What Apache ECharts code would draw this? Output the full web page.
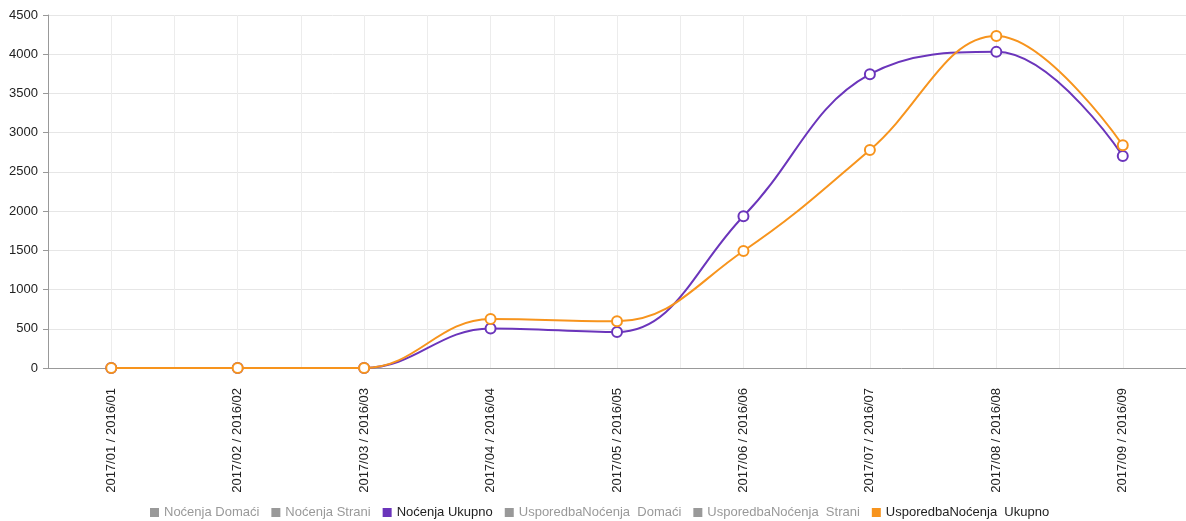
<!DOCTYPE html>
<html><head><meta charset="utf-8">
<script src="https://cdn.jsdelivr.net/npm/echarts@6/dist/echarts.min.js"></script>
<style>html,body{margin:0;padding:0;background:#fff}#c{width:1186px;height:521px}</style>
</head><body><div id="c"></div>
<script>
const categories = ['2017/01 / 2016/01','2017/02 / 2016/02','2017/03 / 2016/03','2017/04 / 2016/04','2017/05 / 2016/05','2017/06 / 2016/06','2017/07 / 2016/07','2017/08 / 2016/08','2017/09 / 2016/09'];
const nocenjaDomaci = [];
const nocenjaStrani = [];
const nocenjaUkupno = [0, 0, 0, 505, 458, 1935, 3745, 4030, 2703];
const usporedbaDomaci = [];
const usporedbaStrani = [];
const usporedbaUkupno = [0, 0, 0, 625, 595, 1492, 2780, 4232, 2840];
const legendNames = ['Noćenja Domaći','Noćenja Strani','Noćenja Ukupno','UsporedbaNoćenja  Domaći','UsporedbaNoćenja  Strani','UsporedbaNoćenja  Ukupno'];

const chart = echarts.init(document.getElementById('c'));
const font = 'Liberation Sans, Arial, sans-serif';
function line(name, data, color, z) {
  return {name, type:'line', data, smooth:0.4, symbol:'emptyCircle', symbolSize:10,
    lineStyle:{width:2,color}, itemStyle:{color, borderWidth:2}, z, xAxisIndex:0, yAxisIndex:0};
}
chart.setOption({
  animation:false,
  color:['#888','#888','#6b35bb','#888','#888','#f7941d'],
  grid:{left:48, right:0, top:15, bottom:153},
  legend:{top:506, left:150, padding:0, icon:'rect', itemWidth:9, itemHeight:9, itemGap:12,
    textStyle:{fontFamily:font,fontSize:13,color:'#222'}, inactiveColor:'#999',
    data:legendNames,
    selected:{'Noćenja Domaći':false,'Noćenja Strani':false,'UsporedbaNoćenja  Domaći':false,'UsporedbaNoćenja  Strani':false}},
  xAxis:[{type:'category', data:categories, boundaryGap:true,
    axisLine:{lineStyle:{color:'#999'}}, axisTick:{lineStyle:{color:'#999'}, length:5},
    axisLabel:{rotate:90, fontFamily:font, fontSize:13, color:'#222', margin:20, interval:0},
    splitLine:{show:false}},
   {type:'value', min:0, max:9, interval:0.5, show:true, position:'bottom',
    axisLine:{show:false}, axisTick:{show:false}, axisLabel:{show:false},
    splitLine:{show:true, lineStyle:{color:'#ececec'}}}],
  yAxis:{type:'value', min:0, max:4500, interval:500,
    axisLine:{show:true, lineStyle:{color:'#999'}}, axisTick:{show:true, length:5, lineStyle:{color:'#999'}},
    axisLabel:{fontFamily:font, fontSize:13, color:'#222', margin:10, formatter:v=>String(v)},
    splitLine:{lineStyle:{color:'#e6e6e6'}}},
  series:[
    line('Noćenja Domaći', nocenjaDomaci, '#888', 2),
    line('Noćenja Strani', nocenjaStrani, '#888', 2),
    line('Noćenja Ukupno', nocenjaUkupno, '#6b35bb', 3),
    line('UsporedbaNoćenja  Domaći', usporedbaDomaci, '#888', 2),
    line('UsporedbaNoćenja  Strani', usporedbaStrani, '#888', 2),
    line('UsporedbaNoćenja  Ukupno', usporedbaUkupno, '#f7941d', 4)
  ]
});
</script></body></html>
